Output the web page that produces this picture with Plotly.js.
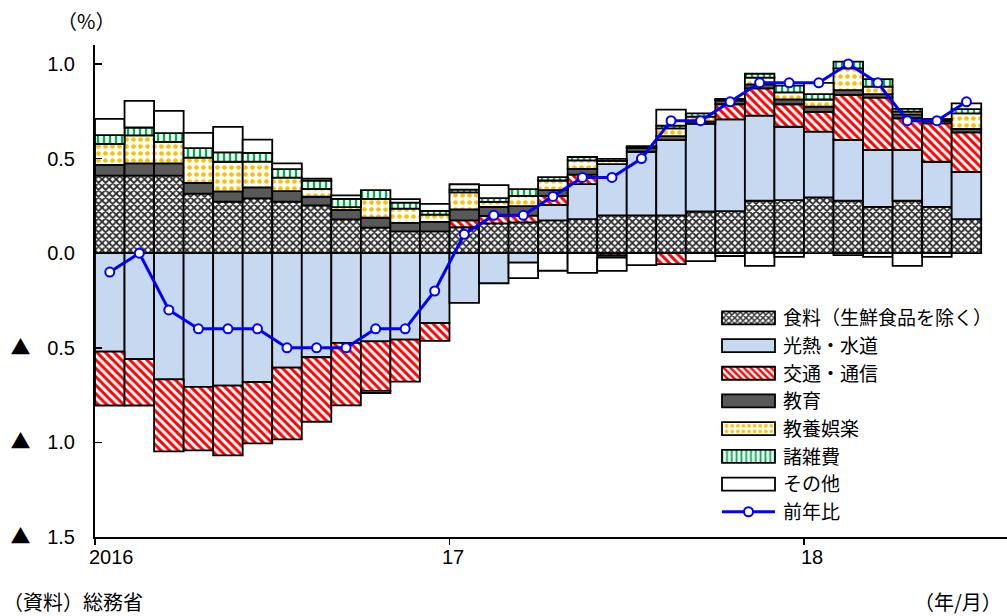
<!DOCTYPE html>
<html>
<head>
<meta charset="utf-8">
<script src="https://cdn.plot.ly/plotly-3.0.1.min.js"></script>
<style>
html,body{margin:0;padding:0;background:#fff;}
#chart{width:1007px;height:616px;}
</style>
</head>
<body>
<div id="chart"></div>
<script>
// ---- data (contribution to CPI y/y change, %pt) ----
const months = ['2016-01','2016-02','2016-03','2016-04','2016-05','2016-06','2016-07','2016-08','2016-09','2016-10','2016-11','2016-12',
                '2017-01','2017-02','2017-03','2017-04','2017-05','2017-06','2017-07','2017-08','2017-09','2017-10','2017-11','2017-12',
                '2018-01','2018-02','2018-03','2018-04','2018-05','2018-06'];
const food      = [0.41,0.41,0.41,0.315,0.272,0.29,0.272,0.252,0.178,0.135,0.115,0.115,0.137,0.157,0.163,0.173,0.18,0.20,0.20,0.20,0.22,0.222,0.277,0.28,0.295,0.277,0.245,0.277,0.245,0.18];
const energy    = [-0.52,-0.56,-0.667,-0.707,-0.70,-0.681,-0.605,-0.55,-0.474,-0.466,-0.457,-0.369,-0.263,-0.159,-0.05,0.082,0.185,0.27,0.336,0.397,0.464,0.485,0.45,0.388,0.347,0.321,0.30,0.268,0.238,0.25];
const transport = [-0.285,-0.245,-0.381,-0.335,-0.369,-0.324,-0.379,-0.341,-0.33,-0.262,-0.222,-0.095,0.036,0.04,0.035,0.048,0.05,-0.012,0,-0.058,0,0.08,0.144,0.119,0.104,0.238,0.277,0.168,0.203,0.208];
const education = [0.057,0.064,0.064,0.056,0.054,0.058,0.056,0.046,0.051,0.052,0.045,0.05,0.058,0.048,0.05,0.03,0.03,-0.012,0.02,0.021,0.012,0.02,0.021,0.026,0.028,0.026,0.018,0.02,0.013,0.018];
const culture   = [0.111,0.148,0.114,0.134,0.157,0.136,0.071,0.041,0.014,0.10,0.075,0.039,0.09,0.026,0.055,0.051,0.045,0.018,0.006,0.041,0.025,0.005,0.036,0.037,0.038,0.115,0.04,0.015,0.005,0.083];
const misc      = [0.046,0.042,0.046,0.05,0.05,0.046,0.045,0.044,0.044,0.046,0.032,0.019,0.015,0.02,0.035,0.018,0.018,0.01,0.004,0.015,0.018,0.003,0.02,0.035,0.028,0.035,0.04,0.014,0.005,0.022];
const other     = [0.086,0.141,0.118,0.081,0.134,0.07,0.03,0.011,0.018,-0.011,0.018,0.037,0.028,0.069,-0.082,-0.093,-0.104,-0.07,-0.063,0.085,-0.042,-0.015,-0.067,-0.02,0.06,-0.01,-0.02,-0.067,-0.02,0.031];
const yoy       = [-0.1,0.0,-0.3,-0.4,-0.4,-0.4,-0.5,-0.5,-0.5,-0.4,-0.4,-0.2,0.1,0.2,0.2,0.3,0.4,0.4,0.5,0.7,0.7,0.8,0.9,0.9,0.9,1.0,0.9,0.7,0.7,0.8];

const seriesNames = ['食料（生鮮食品を除く）','光熱・水道','交通・通信','教育','教養娯楽','諸雑費','その他'];
const lineName = '前年比';
const yearLabels = ['2016','17','18'];
const yTickVals = [1.0,0.5,0.0,-0.5,-1.0,-1.5];
const TRI = '<span style="font-family:Noto Sans CJK JP">▲</span>\u00a0\u00a0\u00a0';
const yTickText = ['1.0','0.5','0.0',TRI+'0.5',TRI+'1.0',TRI+'1.5'];

const idx = months.map((m,i)=>i);
const JP = 'Noto Sans CJK JP, sans-serif';
const NUM = 'Liberation Sans, Arial, Noto Sans CJK JP, sans-serif';

const styles = [
  {color:'#ffffff', pattern:{shape:'x', fgcolor:'#2e2e2e', bgcolor:'#ffffff', size:5, solidity:0.6}},
  {color:'#c6d9f0'},
  {color:'#ffffff', pattern:{shape:'\\', fgcolor:'#ff0000', bgcolor:'#ffffff', size:6, solidity:0.5}},
  {color:'#595959'},
  {color:'#ffffff', pattern:{shape:'.', fgcolor:'#ffc000', bgcolor:'#ffffff', size:7, solidity:0.35}},
  {color:'#ffffff', pattern:{shape:'|', fgcolor:'#00b050', bgcolor:'#ffffff', size:6, solidity:0.4}},
  {color:'#ffffff'}
];
const seriesVals = [food, energy, transport, education, culture, misc, other];

const traces = seriesVals.map((vals,k)=>{
  const m = Object.assign({}, styles[k], {line:{color:'#000000', width:1.8}});
  return {type:'bar', name:seriesNames[k], x:idx, y:vals, marker:m, width:1, hoverinfo:'skip'};
});
traces.push({
  type:'scatter', mode:'lines+markers', name:lineName, x:idx, y:yoy,
  line:{color:'#0000ff', width:3},
  marker:{symbol:'circle', size:9, color:'#ffffff', line:{color:'#0000ff', width:2}},
  hoverinfo:'skip'
});

// plot area in pixels: x 95..1007, y 45..537
const L=95, R=0, T=45, B=79, W=1007-L-R, H=616-T-B;
const px = v => (v - L)/W;
const py = v => (616 - B - v)/H;

const ann = (text, x, y, xa, font) => ({text, xref:'paper', yref:'paper', x:px(x), y:py(y), xanchor:xa, yanchor:'middle', showarrow:false, font});
const jpFont = {family:JP, size:20, color:'#000'};
const numFont = {family:NUM, size:20, color:'#000'};
const annotations = [
  ann('（%）', 86, 20, 'center', jpFont),
  ann('（資料）総務省', 1, 601, 'left', jpFont),
  ann('（年/月）', 1004, 601, 'right', jpFont),
  ann(yearLabels[0], 111, 557, 'center', numFont),
  ann(yearLabels[1], 453, 557, 'center', numFont),
  ann(yearLabels[2], 812, 557, 'center', numFont)
];

const layout = {
  width:1007, height:616,
  margin:{l:L, r:R, t:T, b:B, pad:0},
  paper_bgcolor:'#ffffff', plot_bgcolor:'#ffffff',
  barmode:'relative', bargap:0,
  showlegend:true,
  legend:{x:px(743), y:py(299), xanchor:'left', yanchor:'top', bgcolor:'rgba(0,0,0,0)',
          font:{family:JP, size:19, color:'#000'}, tracegroupgap:0, traceorder:'normal'},
  xaxis:{range:[-0.5, -0.5 + W/29.54], showgrid:false, zeroline:false, showline:true, linecolor:'#000', linewidth:2,
         tickmode:'array', tickvals:[-0.5, 11.5, 23.5], ticks:'outside', ticklen:6, tickwidth:1.5, tickcolor:'#000',
         showticklabels:false, fixedrange:true},
  yaxis:{range:[-1.5, 1.1], showgrid:false, zeroline:false, showline:true, linecolor:'#000', linewidth:2,
         tickmode:'array', tickvals:yTickVals, ticktext:yTickText, ticks:'inside', ticklen:7, tickwidth:1.5, tickcolor:'#000',
         ticklabelstandoff:14, tickfont:numFont, fixedrange:true},
  annotations:annotations
};

// widen legend swatches to the reference's long rectangles
function widenLegend(gd){
  const SHIFT = -14.5, HW = 26.5, HH = 6.5;
  gd.querySelectorAll('.legend [clip-path]').forEach(e=>e.removeAttribute('clip-path'));
  const items = gd.querySelectorAll('.legend .traces');
  items.forEach((g,i)=>{
    if (i < seriesNames.length){
      g.querySelectorAll('.legendpoints path').forEach(p=>{
        const b = p.getBBox(); const cx = b.x + b.width/2 + SHIFT;
        p.setAttribute('d', `M${cx+HW},${HH}H${cx-HW}V${-HH}H${cx+HW}Z`);
      });
    } else {
      const ln = g.querySelector('path.js-line');
      if (ln){ const b = ln.getBBox(); const cx = b.x + b.width/2 + SHIFT; ln.setAttribute('d', `M${cx-HW},0h${2*HW}`); }
      g.querySelectorAll('path.scatterpts').forEach(p=>{
        const t = p.getAttribute('transform') || '';
        const m = t.match(/translate\(\s*([-\d.]+)[ ,]+([-\d.]+)/);
        const tx = m ? parseFloat(m[1]) : 0, ty = m ? parseFloat(m[2]) : 0;
        p.setAttribute('transform', `translate(${tx+SHIFT},${ty})`);
      });
    }
  });
}

Plotly.newPlot('chart', traces, layout, {displayModeBar:false, staticPlot:true}).then(gd=>widenLegend(gd));
</script>
</body>
</html>
